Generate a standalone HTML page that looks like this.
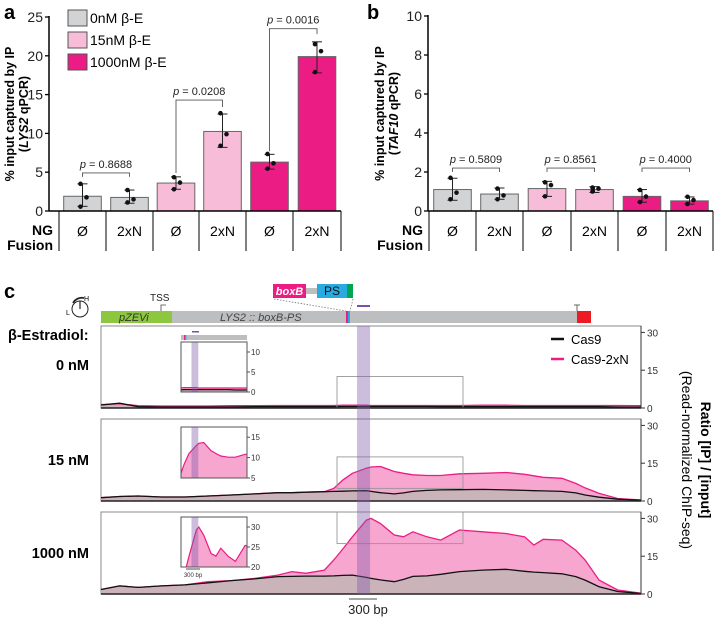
<!DOCTYPE html>
<html><head><meta charset="utf-8">
<style>
html,body{margin:0;padding:0;background:#fff;}
svg{display:block;font-family:"Liberation Sans",sans-serif;}
</style></head>
<body>
<svg id="fig" width="720" height="620" viewBox="0 0 720 620" xmlns="http://www.w3.org/2000/svg"></svg>
<script>
// ---------- Panel a/b data ----------
const barCategories = ["Ø","2xN","Ø","2xN","Ø","2xN"];
const conditions = ["0nM β-E","15nM β-E","1000nM β-E"];
const aMeans = [1.9,1.75,3.6,10.25,6.3,19.9];
const aPoints = [[3.5,1.76,0.56],[2.7,1.5,1.1],[4.35,3.66,2.8],[12.6,9.9,8.4],[7.35,6.15,5.46],[21.5,20.6,17.9]];
const aErrLo = [0.6,1.0,2.8,8.2,5.4,17.8];
const aErrHi = [3.5,2.7,4.4,12.5,7.3,21.8];
const aTicks = [0,5,10,15,20,25];
const aPvals = ["0.8688","0.0208","0.0016"];
const aBracketTop = [4.9,14.3,23.5];
const aBracketLegL = [4.4,4.9,7.7];
const aBracketLegR = [4.4,13.4,22.8];

const bMeans = [1.1,0.87,1.15,1.1,0.75,0.52];
const bPoints = [[1.7,0.94,0.6],[1.15,0.8,0.6],[1.47,1.33,0.75],[1.2,1.15,1.0],[1.08,0.74,0.46],[0.73,0.56,0.36]];
const bErrLo = [0.55,0.6,0.75,0.95,0.45,0.35];
const bErrHi = [1.68,1.18,1.52,1.25,1.1,0.72];
const bTicks = [0,2,4,6,8,10];
const bPvals = ["0.5809","0.8561","0.4000"];
const bBracketTop = [2.2,2.2,2.2];
const bBracketLegL = [2.0,2.0,2.0];
const bBracketLegR = [2.0,2.0,2.0];

// ---------- Panel c data (bp positions, ratio values) ----------
const positions = [0,200,400,650,900,1150,1400,1650,1900,2050,2200,2400,2500,2600,2700,2850,2900,3000,3150,3250,3350,3500,3650,3850,4100,4350,4550,4650,4750,4950,5100,5200,5350,5550,5800];
const pink0 = [1.3,1.7,0.9,0.8,0.8,0.8,0.9,0.9,1.0,1.0,1.0,1.0,1.0,1.1,1.1,1.1,1.0,1.0,1.0,1.0,1.0,1.0,1.0,1.0,1.1,1.1,1.0,1.0,1.0,1.0,1.0,1.0,1.0,1.0,0.9];
const black0 = [1.2,1.9,0.5,0.4,0.4,0.4,0.4,0.5,0.5,0.5,0.5,0.5,0.5,0.6,0.6,0.6,0.6,0.6,0.6,0.6,0.6,0.6,0.5,0.5,0.5,0.5,0.5,0.5,0.5,0.5,0.5,0.5,0.5,0.4,0.3];
const pink15 = [1.3,1.8,2.0,1.6,1.6,2.0,2.4,2.8,3.3,3.3,3.5,3.7,5.0,8.4,11,13,13.5,13.7,11.7,11,10.4,10.1,10.1,10.8,11,11.3,10.6,10,9.4,9.0,7,5.2,3.0,1,0.4];
const black15 = [1.3,1.8,2.0,1.6,1.6,2.0,2.4,2.8,3.3,3.3,3.5,3.7,3.8,3.9,4.0,4.1,3.8,3.3,2.8,3.2,3.8,4.2,4.4,4.5,4.6,4.4,4.2,4.1,4.0,3.8,3.2,2.4,1.5,0.7,0.3];
const pink1000 = [1.8,3.2,2.6,3.2,3.6,4.9,5.3,6.2,7.5,8.9,8.2,9.5,13.5,18,22.7,29.3,30,28,23.4,22.7,24.7,22.7,21.4,25.4,24.7,24,22.7,19.4,21.7,21.4,17.4,13.5,5.5,1.6,0.3];
const black1000 = [1.8,3.2,2.6,3.2,3.6,4.4,5.3,6.0,6.9,7.0,7.1,7.1,7.2,7.4,7.5,6.6,6.2,5.6,4.9,5.8,7.0,7.2,7.8,8.9,9.5,9.8,9.0,8.7,8.5,8.0,6.9,5.5,2.9,1.0,0.2];
const trackLabels = ["0 nM","15 nM","1000 nM"];
const rightTicks = [0,15,30];

const NS="http://www.w3.org/2000/svg";
const svg=document.getElementById('fig');
function el(tag,attrs,parent,text){const e=document.createElementNS(NS,tag);for(const k in attrs)e.setAttribute(k,attrs[k]);if(text!==undefined)e.textContent=text;(parent||svg).appendChild(e);return e;}

const barColors=["#d1d3d4","#f6bcd8","#ec1c85"];

function barPanel(o){
  const g=el('g',{});
  
  
  const y=v=>o.y0-(v/o.max)*(o.y0-o.yTop);
  // letter
  const L=el('text',{x:o.letterX,y:19,'font-size':20,'font-weight':'bold'},g,o.letter);
  
  // axis
  const ax=el('line',{x1:o.axX,y1:o.yTop-1,x2:o.axX,y2:o.y0,stroke:'#000','stroke-width':1.5},g);
  
  o.ticks.forEach(t=>{
    el('line',{x1:o.axX-4,y1:y(t),x2:o.axX,y2:y(t),stroke:'#000','stroke-width':1.3},g);
    const tl=el('text',{x:o.axX-6,y:y(t)+5,'font-size':14,'text-anchor':'end',fill:'#222'},g,String(t));
    
  });
  // y title
  const cy=(o.yTop+o.y0)/2;
  const t1=el('text',{x:o.titleX,y:cy,'font-size':12.5,'font-weight':'bold','text-anchor':'middle',transform:`rotate(-90 ${o.titleX} ${cy})`},g,'% input captured by IP');
  
  const t2=el('text',{x:o.titleX+14,y:cy,'font-size':12.5,'font-weight':'bold','text-anchor':'middle',transform:`rotate(-90 ${o.titleX+14} ${cy})`},g);
  
  el('tspan',{},t2,'(');el('tspan',{'font-style':'italic'},t2,o.gene);el('tspan',{},t2,' qPCR)');
  // bars
  const bw=(o.tableX[1]-o.tableX[0])*0.8;
  o.means.forEach((m,i)=>{
    const cx=(o.tableX[i]+o.tableX[i+1])/2;
    const r=el('rect',{x:cx-bw/2,y:y(m),width:bw,height:o.y0-y(m),fill:barColors[Math.floor(i/2)],stroke:'#666','stroke-width':1},g);
    
    el('line',{x1:cx,y1:y(o.lo[i]),x2:cx,y2:y(o.hi[i]),stroke:'#222','stroke-width':1},g);
    el('line',{x1:cx-5,y1:y(o.lo[i]),x2:cx+5,y2:y(o.lo[i]),stroke:'#222','stroke-width':1},g);
    el('line',{x1:cx-5,y1:y(o.hi[i]),x2:cx+5,y2:y(o.hi[i]),stroke:'#222','stroke-width':1},g);
    o.points[i].forEach((p,j)=>{
      const d=el('circle',{cx:cx+[-1,2,-1][j]*2,cy:y(p),r:2.3,fill:'#111'},g);
      
    });
  });
  // brackets
  o.pvals.forEach((p,k)=>{
    const xl=(o.tableX[2*k]+o.tableX[2*k+1])/2, xr=(o.tableX[2*k+1]+o.tableX[2*k+2])/2;
    const yt=y(o.bt[k]);
    el('path',{d:`M${xl},${y(o.bl[k])}V${yt}H${xr}V${y(o.br[k])}`,fill:'none',stroke:'#555','stroke-width':0.9},g);
    const pt=el('text',{x:(xl+xr)/2,y:yt-5,'font-size':11,'text-anchor':'middle',fill:'#222'},g);
    
    el('tspan',{'font-style':'italic'},pt,'p');el('tspan',{},pt,' = '+p);
  });
  // baseline & table
  el('line',{x1:o.axX,y1:o.y0,x2:o.tableX[6],y2:o.y0,stroke:'#000','stroke-width':1.5},g);
  o.tableX.forEach(x=>el('line',{x1:x,y1:o.y0,x2:x,y2:o.y0+40,stroke:'#000','stroke-width':1},g));
  barCategories.forEach((c,i)=>{
    const ct=el('text',{x:(o.tableX[i]+o.tableX[i+1])/2,y:o.y0+25,'font-size':14,'text-anchor':'middle'},g,c);
    
  });
  const ng=el('text',{x:o.tableX[0]-6,y:o.y0+24,'font-size':14,'font-weight':'bold','text-anchor':'end'},g,'NG');
  
  const fu=el('text',{x:o.tableX[0]-6,y:o.y0+39,'font-size':14,'font-weight':'bold','text-anchor':'end'},g,'Fusion');
  
}

barPanel({name:'panel-a-chart',letter:'a',letterX:4,axX:49,y0:211,yTop:17,max:25,ticks:aTicks,titleX:14,gene:'LYS2',
  tableX:[59,106,153,199,246,293,341],means:aMeans,lo:aErrLo,hi:aErrHi,points:aPoints,pvals:aPvals,bt:aBracketTop,bl:aBracketLegL,br:aBracketLegR});
barPanel({name:'panel-b-chart',letter:'b',letterX:367,axX:428,y0:211,yTop:16,max:10,ticks:bTicks,titleX:384,gene:'TAF10',
  tableX:[429,476,523,571,618,666,713],means:bMeans,lo:bErrLo,hi:bErrHi,points:bPoints,pvals:bPvals,bt:bBracketTop,bl:bBracketLegL,br:bBracketLegR});

// legend a
const lg=el('g',{});
conditions.forEach((c,i)=>{
  const r=el('rect',{x:68,y:10+i*22,width:19,height:16,fill:barColors[i],stroke:'#555','stroke-width':1},lg);
  
  const t=el('text',{x:90,y:23+i*22,'font-size':14},lg,c);
  
});

// ---------- Panel c ----------
const cg=el('g',{});
const cL=el('text',{x:4,y:298,'font-size':20,'font-weight':'bold'},cg,'c');
const X0=101,X1=641,BPMAX=5800;
const xs=bp=>X0+bp/BPMAX*(X1-X0);
// gene diagram
el('rect',{x:101,y:311,width:71,height:12,fill:'#8dc63f'},cg);
el('rect',{x:172,y:311,width:405,height:12,fill:'#bcbec0'},cg);
el('rect',{x:577,y:311,width:14,height:12,fill:'#ed1c24'},cg);
el('line',{x1:577,y1:311,x2:577,y2:305,stroke:'#666'},cg);el('line',{x1:574,y1:305,x2:580,y2:305,stroke:'#666'},cg);
el('rect',{x:346,y:311,width:2,height:12,fill:'#ec1c85'},cg);
el('rect',{x:348,y:311,width:2,height:12,fill:'#29abe2'},cg);
const pz=el('text',{x:119,y:321,'font-size':11,'font-style':'italic',fill:'#333'},cg,'pZEVi');
const ly=el('text',{x:220,y:321,'font-size':11,'font-style':'italic',fill:'#444'},cg,'LYS2 :: boxB-PS');
const tss=el('text',{x:150,y:301,'font-size':10,fill:'#222'},cg,'TSS');
el('path',{d:'M161,311V305H166',fill:'none',stroke:'#444','stroke-width':0.8},cg);
// boxB PS
el('rect',{x:273,y:284,width:33,height:14,fill:'#ec1c85'},cg);
const bb=el('text',{x:289.5,y:295,'font-size':11,'font-weight':'bold','font-style':'italic',fill:'#fff','text-anchor':'middle'},cg,'boxB');
el('rect',{x:306,y:288,width:11,height:6,fill:'#bcbec0'},cg);
el('rect',{x:317,y:284,width:30,height:14,fill:'#29abe2'},cg);
el('rect',{x:347,y:284,width:6,height:14,fill:'#00a651'},cg);
const ps=el('text',{x:332,y:295,'font-size':12,fill:'#111','text-anchor':'middle'},cg,'PS');
el('line',{x1:274,y1:299,x2:346,y2:311,stroke:'#777','stroke-dasharray':'1.5,1.5','stroke-width':0.8},cg);
el('line',{x1:353,y1:299,x2:350,y2:311,stroke:'#777','stroke-dasharray':'1.5,1.5','stroke-width':0.8},cg);
el('rect',{x:357,y:305,width:13,height:2,fill:'#7b52ab'},cg);
// dial icon
el('circle',{cx:80,cy:309,r:8,fill:'none',stroke:'#222','stroke-width':1},cg);
el('line',{x1:80,y1:309,x2:80,y2:301,stroke:'#222','stroke-width':1.2},cg);
el('path',{d:'M73,303 A10,10 0 0 1 84,298',fill:'none',stroke:'#222','stroke-width':1.8},cg);
el('text',{x:84,y:301,'font-size':7},cg,'H');el('text',{x:66,y:315,'font-size':7},cg,'L');
const be=el('text',{x:8,y:340,'font-size':14.5,'font-weight':'bold'},cg,'β-Estradiol:');

const tracks=[
 {base:408,top:326,pink:pink0,black:black0,lab:370,inset:{top:342,bot:392,min:0,max:12.5,ticks:[0,5,10]}},
 {base:501,top:419,pink:pink15,black:black15,lab:465,inset:{top:427,bot:478,min:5,max:17.5,ticks:[5,10,15]}},
 {base:594,top:512,pink:pink1000,black:black1000,lab:558,inset:{top:517,bot:567,min:20,max:32.5,ticks:[20,25,30]}}];
const PX=2.52;
const IX0=181,IX1=247,IBP0=2535,IBP1=3888;
const band0=2750,band1=2890;
let clipId=0;
tracks.forEach((t,k)=>{
  const tg=el('g',{},cg);
  const ys=v=>t.base-v*PX;
  const area=(arr,f)=>positions.map((p,i)=>`${i?'L':'M'}${xs(p).toFixed(1)},${f(arr[i]).toFixed(1)}`).join('');
  el('rect',{x:X0,y:t.top,width:X1-X0,height:t.base-t.top,fill:'#fff',stroke:'#888','stroke-width':1},tg);
  const pa=el('path',{d:area(t.pink,ys)+`L${X1},${t.base}L${X0},${t.base}Z`,fill:'#f6a6cf'},tg);
  const ba=el('path',{d:area(t.black,ys)+`L${X1},${t.base}L${X0},${t.base}Z`,fill:'#cbb3ba'},tg);
  const pl=el('path',{d:area(t.pink,ys),fill:'none',stroke:'#ec1c85','stroke-width':1.3},tg);
  const bl=el('path',{d:area(t.black,ys),fill:'none',stroke:'#111','stroke-width':1.3},tg);
  // zoom rect
  const zy0=ys(t.inset.max),zy1=ys(t.inset.min);
  el('rect',{x:xs(IBP0),y:zy0,width:xs(IBP1)-xs(IBP0),height:zy1-zy0,fill:'none',stroke:'#999','stroke-width':0.9},tg);
  el('line',{x1:X0,y1:t.base,x2:X1,y2:t.base,stroke:'#222','stroke-width':1.5},tg);
  // right axis
  el('line',{x1:X1,y1:t.top,x2:X1,y2:t.base,stroke:'#333','stroke-width':1},tg);
  rightTicks.forEach(v=>{
    el('line',{x1:X1,y1:ys(v),x2:X1+4,y2:ys(v),stroke:'#333'},tg);
    const rt=el('text',{x:X1+6,y:ys(v)+4,'font-size':10,fill:'#333'},tg,String(v));
  });
  const tl=el('text',{x:89,y:t.lab,'font-size':14.5,'font-weight':'bold','text-anchor':'end'},tg,trackLabels[k]);
  // inset
  const I=t.inset;
  const iy=v=>I.bot-(v-I.min)/(I.max-I.min)*(I.bot-I.top);
  const ix=bp=>IX0+(bp-IBP0)/(IBP1-IBP0)*(IX1-IX0);
  const cid='clip'+(clipId++);
  const cp=el('clipPath',{id:cid},tg);el('rect',{x:IX0,y:I.top,width:IX1-IX0,height:I.bot-I.top},cp);
  const ig=el('g',{'clip-path':`url(#${cid})`},tg);
  el('rect',{x:IX0,y:I.top,width:IX1-IX0,height:I.bot-I.top,fill:'#fff'},ig);
  const iarea=arr=>positions.map((p,i)=>`${i?'L':'M'}${ix(p).toFixed(1)},${iy(arr[i]).toFixed(1)}`).join('');
  el('path',{d:iarea(t.pink)+`L${ix(positions[positions.length-1])},${I.bot+5}L${ix(0)},${I.bot+5}Z`,fill:'#f6a6cf'},ig);
  el('path',{d:iarea(t.black)+`L${ix(positions[positions.length-1])},${I.bot+5}L${ix(0)},${I.bot+5}Z`,fill:'#cbb3ba'},ig);
  el('path',{d:iarea(t.pink),fill:'none',stroke:'#ec1c85','stroke-width':1.2},ig);
  el('path',{d:iarea(t.black),fill:'none',stroke:'#111','stroke-width':1.2},ig);
  el('rect',{x:ix(band0),y:I.top,width:ix(band1)-ix(band0),height:I.bot-I.top,fill:'rgba(130,90,170,0.4)'},ig);
  el('rect',{x:IX0,y:I.top,width:IX1-IX0,height:I.bot-I.top,fill:'none',stroke:'#555','stroke-width':1},tg);
  I.ticks.forEach(v=>{
    el('line',{x1:IX1,y1:iy(v),x2:IX1+3,y2:iy(v),stroke:'#555'},tg);
    const it=el('text',{x:IX1+4,y:iy(v)+3,'font-size':8,fill:'#333'},tg,String(v));
  });
});
// inset gene bar on 0nM
el('rect',{x:181,y:335,width:66,height:5,fill:'#bcbec0'},cg);
el('rect',{x:184,y:335,width:1.2,height:5,fill:'#ec1c85'},cg);
el('rect',{x:185.2,y:335,width:1.2,height:5,fill:'#29abe2'},cg);
el('rect',{x:192,y:331,width:7,height:1.5,fill:'#7b52ab'},cg);
// inset scale bar
el('line',{x1:186,y1:569,x2:200,y2:569,stroke:'#888','stroke-width':1.5},cg);
const isb=el('text',{x:193,y:577,'font-size':6,'text-anchor':'middle',fill:'#333'},cg,'300 bp');
// main purple band
const band=el('rect',{x:xs(band0),y:326,width:xs(band1)-xs(band0),height:268,fill:'rgba(130,90,170,0.4)'},cg);

// legend c
const lc=el('g',{},cg);
el('line',{x1:551,y1:339,x2:564,y2:339,stroke:'#111','stroke-width':2.5},lc);
const l1=el('text',{x:571,y:344,'font-size':13},lc,'Cas9');
el('line',{x1:551,y1:359,x2:564,y2:359,stroke:'#ec1c85','stroke-width':2.5},lc);
const l2=el('text',{x:571,y:364,'font-size':13},lc,'Cas9-2xN');
// right axis titles
const r1=el('text',{x:701,y:460,'font-size':14,'font-weight':'bold','text-anchor':'middle',transform:'rotate(90 701 460)'},cg,'Ratio [IP] / [input]');
const r2=el('text',{x:682,y:460,'font-size':14,'text-anchor':'middle',transform:'rotate(90 682 460)'},cg,'(Read-normalized ChIP-seq)');
// scale bar
el('line',{x1:349,y1:599,x2:377,y2:599,stroke:'#888','stroke-width':1.5},cg);
const sb=el('text',{x:368,y:614,'font-size':13,'text-anchor':'middle',fill:'#222'},cg,'300 bp');
</script>
</body></html>
